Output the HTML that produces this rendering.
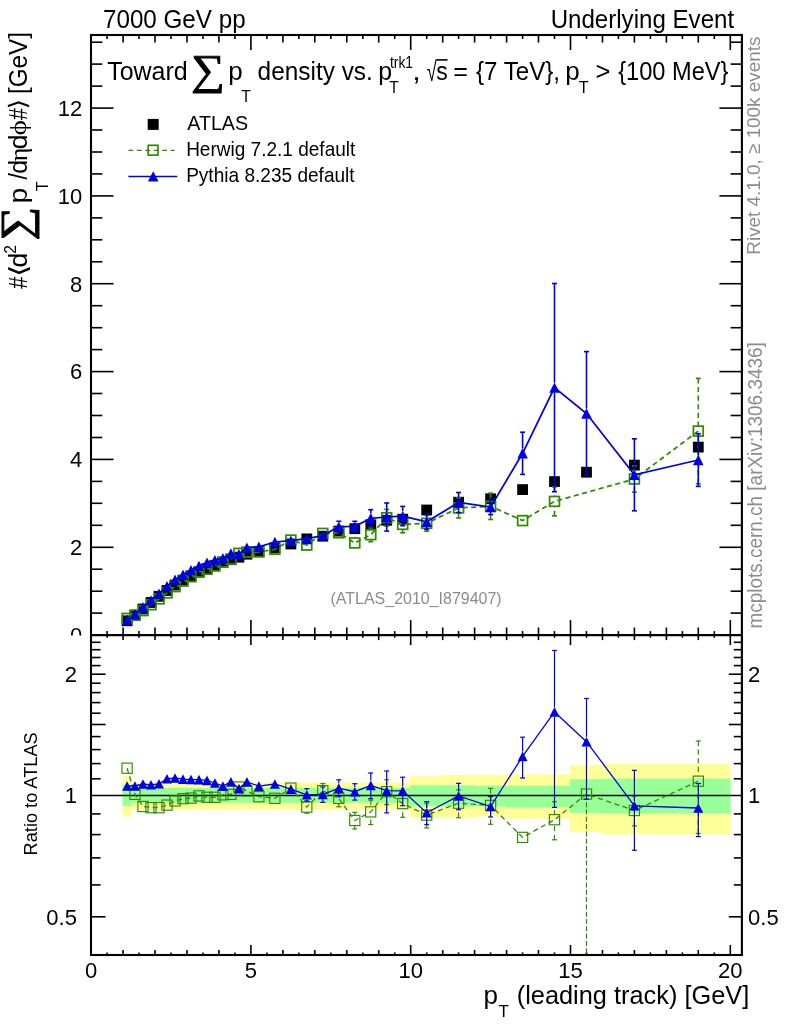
<!DOCTYPE html>
<html><head><meta charset="utf-8"><title>plot</title><style>html,body{margin:0;padding:0;background:#fff}</style></head><body>
<svg width="786" height="1024" viewBox="0 0 786 1024" style="display:block">
<rect width="786" height="1024" fill="#fff"/>
<rect x="122.5" y="776.1" width="8.9" height="40.7" fill="#ffff99"/>
<rect x="130.5" y="782.4" width="280.6" height="27.4" fill="#ffff99"/>
<rect x="410.1" y="776.2" width="32.9" height="41.7" fill="#ffff99"/>
<rect x="442.1" y="775.0" width="32.9" height="42.9" fill="#ffff99"/>
<rect x="474.0" y="775.0" width="32.9" height="41.7" fill="#ffff99"/>
<rect x="506.0" y="774.3" width="64.8" height="44.7" fill="#ffff99"/>
<rect x="569.9" y="764.9" width="32.9" height="67.0" fill="#ffff99"/>
<rect x="601.9" y="763.7" width="128.7" height="71.0" fill="#ffff99"/>
<rect x="122.5" y="785.0" width="8.9" height="21.0" fill="#99ff99"/>
<rect x="130.5" y="787.9" width="280.6" height="14.9" fill="#99ff99"/>
<rect x="410.1" y="785.3" width="32.9" height="21.1" fill="#99ff99"/>
<rect x="442.1" y="785.3" width="32.9" height="21.1" fill="#99ff99"/>
<rect x="474.0" y="785.8" width="32.9" height="20.6" fill="#99ff99"/>
<rect x="506.0" y="785.8" width="64.8" height="21.8" fill="#99ff99"/>
<rect x="569.9" y="779.3" width="32.9" height="33.6" fill="#99ff99"/>
<rect x="601.9" y="778.6" width="128.7" height="35.0" fill="#99ff99"/>
<g stroke="#000" stroke-width="2.1" fill="none" stroke-linecap="butt">
<rect x="91.0" y="35.0" width="650.9" height="920.0"/>
<line x1="91.0" x2="741.9" y1="635.1" y2="635.1"/>
</g>
<g stroke="#000" stroke-width="1.6">
<line x1="107.1" y1="35.0" x2="107.1" y2="39.0"/>
<line x1="107.1" y1="631.1" x2="107.1" y2="637.7"/>
<line x1="107.1" y1="952.4" x2="107.1" y2="955.0"/>
<line x1="123.1" y1="35.0" x2="123.1" y2="42.6"/>
<line x1="123.1" y1="627.5" x2="123.1" y2="640.1"/>
<line x1="123.1" y1="950.0" x2="123.1" y2="955.0"/>
<line x1="139.0" y1="35.0" x2="139.0" y2="39.0"/>
<line x1="139.0" y1="631.1" x2="139.0" y2="637.7"/>
<line x1="139.0" y1="952.4" x2="139.0" y2="955.0"/>
<line x1="155.0" y1="35.0" x2="155.0" y2="42.6"/>
<line x1="155.0" y1="627.5" x2="155.0" y2="640.1"/>
<line x1="155.0" y1="950.0" x2="155.0" y2="955.0"/>
<line x1="171.0" y1="35.0" x2="171.0" y2="39.0"/>
<line x1="171.0" y1="631.1" x2="171.0" y2="637.7"/>
<line x1="171.0" y1="952.4" x2="171.0" y2="955.0"/>
<line x1="187.0" y1="35.0" x2="187.0" y2="42.6"/>
<line x1="187.0" y1="627.5" x2="187.0" y2="640.1"/>
<line x1="187.0" y1="950.0" x2="187.0" y2="955.0"/>
<line x1="203.0" y1="35.0" x2="203.0" y2="39.0"/>
<line x1="203.0" y1="631.1" x2="203.0" y2="637.7"/>
<line x1="203.0" y1="952.4" x2="203.0" y2="955.0"/>
<line x1="218.9" y1="35.0" x2="218.9" y2="42.6"/>
<line x1="218.9" y1="627.5" x2="218.9" y2="640.1"/>
<line x1="218.9" y1="950.0" x2="218.9" y2="955.0"/>
<line x1="234.9" y1="35.0" x2="234.9" y2="39.0"/>
<line x1="234.9" y1="631.1" x2="234.9" y2="637.7"/>
<line x1="234.9" y1="952.4" x2="234.9" y2="955.0"/>
<line x1="250.9" y1="35.0" x2="250.9" y2="50.0"/>
<line x1="250.9" y1="620.1" x2="250.9" y2="645.1"/>
<line x1="250.9" y1="945.0" x2="250.9" y2="955.0"/>
<line x1="266.9" y1="35.0" x2="266.9" y2="39.0"/>
<line x1="266.9" y1="631.1" x2="266.9" y2="637.7"/>
<line x1="266.9" y1="952.4" x2="266.9" y2="955.0"/>
<line x1="282.9" y1="35.0" x2="282.9" y2="42.6"/>
<line x1="282.9" y1="627.5" x2="282.9" y2="640.1"/>
<line x1="282.9" y1="950.0" x2="282.9" y2="955.0"/>
<line x1="298.8" y1="35.0" x2="298.8" y2="39.0"/>
<line x1="298.8" y1="631.1" x2="298.8" y2="637.7"/>
<line x1="298.8" y1="952.4" x2="298.8" y2="955.0"/>
<line x1="314.8" y1="35.0" x2="314.8" y2="42.6"/>
<line x1="314.8" y1="627.5" x2="314.8" y2="640.1"/>
<line x1="314.8" y1="950.0" x2="314.8" y2="955.0"/>
<line x1="330.8" y1="35.0" x2="330.8" y2="39.0"/>
<line x1="330.8" y1="631.1" x2="330.8" y2="637.7"/>
<line x1="330.8" y1="952.4" x2="330.8" y2="955.0"/>
<line x1="346.8" y1="35.0" x2="346.8" y2="42.6"/>
<line x1="346.8" y1="627.5" x2="346.8" y2="640.1"/>
<line x1="346.8" y1="950.0" x2="346.8" y2="955.0"/>
<line x1="362.8" y1="35.0" x2="362.8" y2="39.0"/>
<line x1="362.8" y1="631.1" x2="362.8" y2="637.7"/>
<line x1="362.8" y1="952.4" x2="362.8" y2="955.0"/>
<line x1="378.7" y1="35.0" x2="378.7" y2="42.6"/>
<line x1="378.7" y1="627.5" x2="378.7" y2="640.1"/>
<line x1="378.7" y1="950.0" x2="378.7" y2="955.0"/>
<line x1="394.7" y1="35.0" x2="394.7" y2="39.0"/>
<line x1="394.7" y1="631.1" x2="394.7" y2="637.7"/>
<line x1="394.7" y1="952.4" x2="394.7" y2="955.0"/>
<line x1="410.7" y1="35.0" x2="410.7" y2="50.0"/>
<line x1="410.7" y1="620.1" x2="410.7" y2="645.1"/>
<line x1="410.7" y1="945.0" x2="410.7" y2="955.0"/>
<line x1="426.7" y1="35.0" x2="426.7" y2="39.0"/>
<line x1="426.7" y1="631.1" x2="426.7" y2="637.7"/>
<line x1="426.7" y1="952.4" x2="426.7" y2="955.0"/>
<line x1="442.7" y1="35.0" x2="442.7" y2="42.6"/>
<line x1="442.7" y1="627.5" x2="442.7" y2="640.1"/>
<line x1="442.7" y1="950.0" x2="442.7" y2="955.0"/>
<line x1="458.6" y1="35.0" x2="458.6" y2="39.0"/>
<line x1="458.6" y1="631.1" x2="458.6" y2="637.7"/>
<line x1="458.6" y1="952.4" x2="458.6" y2="955.0"/>
<line x1="474.6" y1="35.0" x2="474.6" y2="42.6"/>
<line x1="474.6" y1="627.5" x2="474.6" y2="640.1"/>
<line x1="474.6" y1="950.0" x2="474.6" y2="955.0"/>
<line x1="490.6" y1="35.0" x2="490.6" y2="39.0"/>
<line x1="490.6" y1="631.1" x2="490.6" y2="637.7"/>
<line x1="490.6" y1="952.4" x2="490.6" y2="955.0"/>
<line x1="506.6" y1="35.0" x2="506.6" y2="42.6"/>
<line x1="506.6" y1="627.5" x2="506.6" y2="640.1"/>
<line x1="506.6" y1="950.0" x2="506.6" y2="955.0"/>
<line x1="522.6" y1="35.0" x2="522.6" y2="39.0"/>
<line x1="522.6" y1="631.1" x2="522.6" y2="637.7"/>
<line x1="522.6" y1="952.4" x2="522.6" y2="955.0"/>
<line x1="538.5" y1="35.0" x2="538.5" y2="42.6"/>
<line x1="538.5" y1="627.5" x2="538.5" y2="640.1"/>
<line x1="538.5" y1="950.0" x2="538.5" y2="955.0"/>
<line x1="554.5" y1="35.0" x2="554.5" y2="39.0"/>
<line x1="554.5" y1="631.1" x2="554.5" y2="637.7"/>
<line x1="554.5" y1="952.4" x2="554.5" y2="955.0"/>
<line x1="570.5" y1="35.0" x2="570.5" y2="50.0"/>
<line x1="570.5" y1="620.1" x2="570.5" y2="645.1"/>
<line x1="570.5" y1="945.0" x2="570.5" y2="955.0"/>
<line x1="586.5" y1="35.0" x2="586.5" y2="39.0"/>
<line x1="586.5" y1="631.1" x2="586.5" y2="637.7"/>
<line x1="586.5" y1="952.4" x2="586.5" y2="955.0"/>
<line x1="602.5" y1="35.0" x2="602.5" y2="42.6"/>
<line x1="602.5" y1="627.5" x2="602.5" y2="640.1"/>
<line x1="602.5" y1="950.0" x2="602.5" y2="955.0"/>
<line x1="618.4" y1="35.0" x2="618.4" y2="39.0"/>
<line x1="618.4" y1="631.1" x2="618.4" y2="637.7"/>
<line x1="618.4" y1="952.4" x2="618.4" y2="955.0"/>
<line x1="634.4" y1="35.0" x2="634.4" y2="42.6"/>
<line x1="634.4" y1="627.5" x2="634.4" y2="640.1"/>
<line x1="634.4" y1="950.0" x2="634.4" y2="955.0"/>
<line x1="650.4" y1="35.0" x2="650.4" y2="39.0"/>
<line x1="650.4" y1="631.1" x2="650.4" y2="637.7"/>
<line x1="650.4" y1="952.4" x2="650.4" y2="955.0"/>
<line x1="666.4" y1="35.0" x2="666.4" y2="42.6"/>
<line x1="666.4" y1="627.5" x2="666.4" y2="640.1"/>
<line x1="666.4" y1="950.0" x2="666.4" y2="955.0"/>
<line x1="682.4" y1="35.0" x2="682.4" y2="39.0"/>
<line x1="682.4" y1="631.1" x2="682.4" y2="637.7"/>
<line x1="682.4" y1="952.4" x2="682.4" y2="955.0"/>
<line x1="698.3" y1="35.0" x2="698.3" y2="42.6"/>
<line x1="698.3" y1="627.5" x2="698.3" y2="640.1"/>
<line x1="698.3" y1="950.0" x2="698.3" y2="955.0"/>
<line x1="714.3" y1="35.0" x2="714.3" y2="39.0"/>
<line x1="714.3" y1="631.1" x2="714.3" y2="637.7"/>
<line x1="714.3" y1="952.4" x2="714.3" y2="955.0"/>
<line x1="730.3" y1="35.0" x2="730.3" y2="50.0"/>
<line x1="730.3" y1="620.1" x2="730.3" y2="645.1"/>
<line x1="730.3" y1="945.0" x2="730.3" y2="955.0"/>
<line x1="91.0" y1="613.1" x2="102.3" y2="613.1"/>
<line x1="730.6" y1="613.1" x2="741.9" y2="613.1"/>
<line x1="91.0" y1="591.2" x2="102.3" y2="591.2"/>
<line x1="730.6" y1="591.2" x2="741.9" y2="591.2"/>
<line x1="91.0" y1="569.2" x2="102.3" y2="569.2"/>
<line x1="730.6" y1="569.2" x2="741.9" y2="569.2"/>
<line x1="91.0" y1="547.3" x2="113.5" y2="547.3"/>
<line x1="719.4" y1="547.3" x2="741.9" y2="547.3"/>
<line x1="91.0" y1="525.3" x2="102.3" y2="525.3"/>
<line x1="730.6" y1="525.3" x2="741.9" y2="525.3"/>
<line x1="91.0" y1="503.3" x2="102.3" y2="503.3"/>
<line x1="730.6" y1="503.3" x2="741.9" y2="503.3"/>
<line x1="91.0" y1="481.4" x2="102.3" y2="481.4"/>
<line x1="730.6" y1="481.4" x2="741.9" y2="481.4"/>
<line x1="91.0" y1="459.4" x2="113.5" y2="459.4"/>
<line x1="719.4" y1="459.4" x2="741.9" y2="459.4"/>
<line x1="91.0" y1="437.5" x2="102.3" y2="437.5"/>
<line x1="730.6" y1="437.5" x2="741.9" y2="437.5"/>
<line x1="91.0" y1="415.5" x2="102.3" y2="415.5"/>
<line x1="730.6" y1="415.5" x2="741.9" y2="415.5"/>
<line x1="91.0" y1="393.5" x2="102.3" y2="393.5"/>
<line x1="730.6" y1="393.5" x2="741.9" y2="393.5"/>
<line x1="91.0" y1="371.6" x2="113.5" y2="371.6"/>
<line x1="719.4" y1="371.6" x2="741.9" y2="371.6"/>
<line x1="91.0" y1="349.6" x2="102.3" y2="349.6"/>
<line x1="730.6" y1="349.6" x2="741.9" y2="349.6"/>
<line x1="91.0" y1="327.7" x2="102.3" y2="327.7"/>
<line x1="730.6" y1="327.7" x2="741.9" y2="327.7"/>
<line x1="91.0" y1="305.7" x2="102.3" y2="305.7"/>
<line x1="730.6" y1="305.7" x2="741.9" y2="305.7"/>
<line x1="91.0" y1="283.7" x2="113.5" y2="283.7"/>
<line x1="719.4" y1="283.7" x2="741.9" y2="283.7"/>
<line x1="91.0" y1="261.8" x2="102.3" y2="261.8"/>
<line x1="730.6" y1="261.8" x2="741.9" y2="261.8"/>
<line x1="91.0" y1="239.8" x2="102.3" y2="239.8"/>
<line x1="730.6" y1="239.8" x2="741.9" y2="239.8"/>
<line x1="91.0" y1="217.9" x2="102.3" y2="217.9"/>
<line x1="730.6" y1="217.9" x2="741.9" y2="217.9"/>
<line x1="91.0" y1="195.9" x2="113.5" y2="195.9"/>
<line x1="719.4" y1="195.9" x2="741.9" y2="195.9"/>
<line x1="91.0" y1="173.9" x2="102.3" y2="173.9"/>
<line x1="730.6" y1="173.9" x2="741.9" y2="173.9"/>
<line x1="91.0" y1="152.0" x2="102.3" y2="152.0"/>
<line x1="730.6" y1="152.0" x2="741.9" y2="152.0"/>
<line x1="91.0" y1="130.0" x2="102.3" y2="130.0"/>
<line x1="730.6" y1="130.0" x2="741.9" y2="130.0"/>
<line x1="91.0" y1="108.1" x2="113.5" y2="108.1"/>
<line x1="719.4" y1="108.1" x2="741.9" y2="108.1"/>
<line x1="91.0" y1="86.1" x2="102.3" y2="86.1"/>
<line x1="730.6" y1="86.1" x2="741.9" y2="86.1"/>
<line x1="91.0" y1="64.1" x2="102.3" y2="64.1"/>
<line x1="730.6" y1="64.1" x2="741.9" y2="64.1"/>
<line x1="91.0" y1="42.2" x2="102.3" y2="42.2"/>
<line x1="730.6" y1="42.2" x2="741.9" y2="42.2"/>
<line x1="91.0" y1="916.8" x2="105.6" y2="916.8"/>
<line x1="728.8" y1="916.8" x2="741.9" y2="916.8"/>
<line x1="91.0" y1="884.9" x2="100.6" y2="884.9"/>
<line x1="733.8" y1="884.9" x2="741.9" y2="884.9"/>
<line x1="91.0" y1="857.9" x2="100.6" y2="857.9"/>
<line x1="733.8" y1="857.9" x2="741.9" y2="857.9"/>
<line x1="91.0" y1="834.6" x2="100.6" y2="834.6"/>
<line x1="733.8" y1="834.6" x2="741.9" y2="834.6"/>
<line x1="91.0" y1="813.9" x2="100.6" y2="813.9"/>
<line x1="733.8" y1="813.9" x2="741.9" y2="813.9"/>
<line x1="91.0" y1="778.8" x2="100.6" y2="778.8"/>
<line x1="733.8" y1="778.8" x2="741.9" y2="778.8"/>
<line x1="91.0" y1="763.6" x2="100.6" y2="763.6"/>
<line x1="733.8" y1="763.6" x2="741.9" y2="763.6"/>
<line x1="91.0" y1="749.6" x2="100.6" y2="749.6"/>
<line x1="733.8" y1="749.6" x2="741.9" y2="749.6"/>
<line x1="91.0" y1="736.6" x2="100.6" y2="736.6"/>
<line x1="733.8" y1="736.6" x2="741.9" y2="736.6"/>
<line x1="91.0" y1="724.5" x2="105.6" y2="724.5"/>
<line x1="728.8" y1="724.5" x2="741.9" y2="724.5"/>
<line x1="91.0" y1="713.2" x2="100.6" y2="713.2"/>
<line x1="733.8" y1="713.2" x2="741.9" y2="713.2"/>
<line x1="91.0" y1="702.6" x2="100.6" y2="702.6"/>
<line x1="733.8" y1="702.6" x2="741.9" y2="702.6"/>
<line x1="91.0" y1="692.6" x2="100.6" y2="692.6"/>
<line x1="733.8" y1="692.6" x2="741.9" y2="692.6"/>
<line x1="91.0" y1="683.2" x2="100.6" y2="683.2"/>
<line x1="733.8" y1="683.2" x2="741.9" y2="683.2"/>
<line x1="91.0" y1="674.2" x2="105.6" y2="674.2"/>
<line x1="728.8" y1="674.2" x2="741.9" y2="674.2"/>
<line x1="91.0" y1="665.6" x2="100.6" y2="665.6"/>
<line x1="733.8" y1="665.6" x2="741.9" y2="665.6"/>
<line x1="91.0" y1="657.5" x2="100.6" y2="657.5"/>
<line x1="733.8" y1="657.5" x2="741.9" y2="657.5"/>
<line x1="91.0" y1="649.7" x2="100.6" y2="649.7"/>
<line x1="733.8" y1="649.7" x2="741.9" y2="649.7"/>
<line x1="91.0" y1="642.3" x2="100.6" y2="642.3"/>
<line x1="733.8" y1="642.3" x2="741.9" y2="642.3"/>
<line x1="91.0" x2="741.9" y1="795.5" y2="795.5" stroke-width="1.3"/>
</g>
<clipPath id="cm"><rect x="91.0" y="35.0" width="650.9" height="600.1"/></clipPath>
<clipPath id="cr"><rect x="91.0" y="635.1" width="650.9" height="319.9"/></clipPath>
<g clip-path="url(#cm)">
<rect x="121.7" y="615.4" width="10.8" height="10.8" fill="#000"/>
<rect x="129.6" y="609.9" width="10.8" height="10.8" fill="#000"/>
<rect x="137.6" y="603.6" width="10.8" height="10.8" fill="#000"/>
<rect x="145.6" y="597.1" width="10.8" height="10.8" fill="#000"/>
<rect x="153.6" y="590.9" width="10.8" height="10.8" fill="#000"/>
<rect x="161.6" y="585.1" width="10.8" height="10.8" fill="#000"/>
<rect x="169.6" y="579.6" width="10.8" height="10.8" fill="#000"/>
<rect x="177.6" y="574.7" width="10.8" height="10.8" fill="#000"/>
<rect x="185.6" y="570.4" width="10.8" height="10.8" fill="#000"/>
<rect x="193.6" y="566.5" width="10.8" height="10.8" fill="#000"/>
<rect x="201.6" y="563.2" width="10.8" height="10.8" fill="#000"/>
<rect x="209.5" y="559.9" width="10.8" height="10.8" fill="#000"/>
<rect x="217.5" y="556.8" width="10.8" height="10.8" fill="#000"/>
<rect x="225.5" y="554.3" width="10.8" height="10.8" fill="#000"/>
<rect x="233.5" y="551.8" width="10.8" height="10.8" fill="#000"/>
<rect x="241.5" y="548.8" width="10.8" height="10.8" fill="#000"/>
<rect x="253.5" y="546.0" width="10.8" height="10.8" fill="#000"/>
<rect x="269.5" y="542.5" width="10.8" height="10.8" fill="#000"/>
<rect x="285.5" y="538.6" width="10.8" height="10.8" fill="#000"/>
<rect x="301.4" y="533.5" width="10.8" height="10.8" fill="#000"/>
<rect x="317.4" y="530.8" width="10.8" height="10.8" fill="#000"/>
<rect x="333.4" y="525.7" width="10.8" height="10.8" fill="#000"/>
<rect x="349.4" y="523.3" width="10.8" height="10.8" fill="#000"/>
<rect x="365.4" y="519.4" width="10.8" height="10.8" fill="#000"/>
<rect x="381.3" y="514.9" width="10.8" height="10.8" fill="#000"/>
<rect x="397.3" y="513.8" width="10.8" height="10.8" fill="#000"/>
<rect x="421.3" y="504.6" width="10.8" height="10.8" fill="#000"/>
<rect x="453.2" y="496.8" width="10.8" height="10.8" fill="#000"/>
<rect x="485.2" y="493.4" width="10.8" height="10.8" fill="#000"/>
<rect x="517.2" y="484.2" width="10.8" height="10.8" fill="#000"/>
<rect x="549.1" y="476.2" width="10.8" height="10.8" fill="#000"/>
<rect x="581.1" y="466.8" width="10.8" height="10.8" fill="#000"/>
<rect x="629.0" y="459.7" width="10.8" height="10.8" fill="#000"/>
<rect x="692.9" y="441.7" width="10.8" height="10.8" fill="#000"/>
<polyline points="127.1,618.4 135.0,615.1 143.0,610.6 151.0,604.7 159.0,598.9 167.0,592.9 175.0,586.6 183.0,581.1 191.0,576.7 199.0,572.1 207.0,569.3 214.9,566.0 222.9,562.0 230.9,559.1 238.9,553.3 246.9,552.1 258.9,552.0 274.9,549.3 290.9,540.1 306.8,545.1 322.8,533.4 338.8,532.8 354.8,542.9 370.8,534.7 386.7,517.7 402.7,524.4 426.7,523.3 458.6,507.9 490.6,506.3 522.6,520.6 554.5,501.4 634.4,479.0 698.3,431.1" fill="none" stroke="#2f8a00" stroke-width="1.75" stroke-dasharray="5.1,3.5"/>
<rect x="122.2" y="613.5" width="9.8" height="9.8" fill="none" stroke="#2f8a00" stroke-width="1.75"/>
<rect x="130.1" y="610.2" width="9.8" height="9.8" fill="none" stroke="#2f8a00" stroke-width="1.75"/>
<rect x="138.1" y="605.7" width="9.8" height="9.8" fill="none" stroke="#2f8a00" stroke-width="1.75"/>
<rect x="146.1" y="599.8" width="9.8" height="9.8" fill="none" stroke="#2f8a00" stroke-width="1.75"/>
<rect x="154.1" y="594.0" width="9.8" height="9.8" fill="none" stroke="#2f8a00" stroke-width="1.75"/>
<rect x="162.1" y="588.0" width="9.8" height="9.8" fill="none" stroke="#2f8a00" stroke-width="1.75"/>
<rect x="170.1" y="581.7" width="9.8" height="9.8" fill="none" stroke="#2f8a00" stroke-width="1.75"/>
<rect x="178.1" y="576.2" width="9.8" height="9.8" fill="none" stroke="#2f8a00" stroke-width="1.75"/>
<rect x="186.1" y="571.8" width="9.8" height="9.8" fill="none" stroke="#2f8a00" stroke-width="1.75"/>
<rect x="194.1" y="567.2" width="9.8" height="9.8" fill="none" stroke="#2f8a00" stroke-width="1.75"/>
<rect x="202.1" y="564.4" width="9.8" height="9.8" fill="none" stroke="#2f8a00" stroke-width="1.75"/>
<rect x="210.0" y="561.1" width="9.8" height="9.8" fill="none" stroke="#2f8a00" stroke-width="1.75"/>
<rect x="218.0" y="557.1" width="9.8" height="9.8" fill="none" stroke="#2f8a00" stroke-width="1.75"/>
<rect x="226.0" y="554.2" width="9.8" height="9.8" fill="none" stroke="#2f8a00" stroke-width="1.75"/>
<rect x="234.0" y="548.4" width="9.8" height="9.8" fill="none" stroke="#2f8a00" stroke-width="1.75"/>
<rect x="242.0" y="547.2" width="9.8" height="9.8" fill="none" stroke="#2f8a00" stroke-width="1.75"/>
<rect x="254.0" y="547.1" width="9.8" height="9.8" fill="none" stroke="#2f8a00" stroke-width="1.75"/>
<rect x="270.0" y="544.4" width="9.8" height="9.8" fill="none" stroke="#2f8a00" stroke-width="1.75"/>
<rect x="286.0" y="535.2" width="9.8" height="9.8" fill="none" stroke="#2f8a00" stroke-width="1.75"/>

<rect x="301.9" y="540.2" width="9.8" height="9.8" fill="none" stroke="#2f8a00" stroke-width="1.75"/>

<rect x="317.9" y="528.5" width="9.8" height="9.8" fill="none" stroke="#2f8a00" stroke-width="1.75"/>

<rect x="333.9" y="527.9" width="9.8" height="9.8" fill="none" stroke="#2f8a00" stroke-width="1.75"/>

<rect x="349.9" y="538.0" width="9.8" height="9.8" fill="none" stroke="#2f8a00" stroke-width="1.75"/>
<line x1="370.8" x2="370.8" y1="527.7" y2="529.7" stroke="#2f8a00" stroke-width="1.61" stroke-dasharray="5.1,3.5"/><line x1="368.2" x2="373.2" y1="527.7" y2="527.7" stroke="#2f8a00" stroke-width="1.61"/><line x1="370.8" x2="370.8" y1="541.7" y2="539.7" stroke="#2f8a00" stroke-width="1.61" stroke-dasharray="5.1,3.5"/><line x1="368.2" x2="373.2" y1="541.7" y2="541.7" stroke="#2f8a00" stroke-width="1.61"/>
<rect x="365.9" y="529.8" width="9.8" height="9.8" fill="none" stroke="#2f8a00" stroke-width="1.75"/>
<line x1="386.7" x2="386.7" y1="509.4" y2="512.7" stroke="#2f8a00" stroke-width="1.61" stroke-dasharray="5.1,3.5"/><line x1="384.2" x2="389.2" y1="509.4" y2="509.4" stroke="#2f8a00" stroke-width="1.61"/><line x1="386.7" x2="386.7" y1="526.1" y2="522.7" stroke="#2f8a00" stroke-width="1.61" stroke-dasharray="5.1,3.5"/><line x1="384.2" x2="389.2" y1="526.1" y2="526.1" stroke="#2f8a00" stroke-width="1.61"/>
<rect x="381.8" y="512.8" width="9.8" height="9.8" fill="none" stroke="#2f8a00" stroke-width="1.75"/>
<line x1="402.7" x2="402.7" y1="516.1" y2="519.4" stroke="#2f8a00" stroke-width="1.61" stroke-dasharray="5.1,3.5"/><line x1="400.2" x2="405.2" y1="516.1" y2="516.1" stroke="#2f8a00" stroke-width="1.61"/><line x1="402.7" x2="402.7" y1="532.8" y2="529.4" stroke="#2f8a00" stroke-width="1.61" stroke-dasharray="5.1,3.5"/><line x1="400.2" x2="405.2" y1="532.8" y2="532.8" stroke="#2f8a00" stroke-width="1.61"/>
<rect x="397.8" y="519.5" width="9.8" height="9.8" fill="none" stroke="#2f8a00" stroke-width="1.75"/>
<line x1="426.7" x2="426.7" y1="515.4" y2="518.3" stroke="#2f8a00" stroke-width="1.61" stroke-dasharray="5.1,3.5"/><line x1="424.2" x2="429.2" y1="515.4" y2="515.4" stroke="#2f8a00" stroke-width="1.61"/><line x1="426.7" x2="426.7" y1="531.2" y2="528.3" stroke="#2f8a00" stroke-width="1.61" stroke-dasharray="5.1,3.5"/><line x1="424.2" x2="429.2" y1="531.2" y2="531.2" stroke="#2f8a00" stroke-width="1.61"/>
<rect x="421.8" y="518.4" width="9.8" height="9.8" fill="none" stroke="#2f8a00" stroke-width="1.75"/>
<line x1="458.6" x2="458.6" y1="497.8" y2="502.9" stroke="#2f8a00" stroke-width="1.61" stroke-dasharray="5.1,3.5"/><line x1="456.1" x2="461.1" y1="497.8" y2="497.8" stroke="#2f8a00" stroke-width="1.61"/><line x1="458.6" x2="458.6" y1="518.0" y2="512.9" stroke="#2f8a00" stroke-width="1.61" stroke-dasharray="5.1,3.5"/><line x1="456.1" x2="461.1" y1="518.0" y2="518.0" stroke="#2f8a00" stroke-width="1.61"/>
<rect x="453.7" y="503.0" width="9.8" height="9.8" fill="none" stroke="#2f8a00" stroke-width="1.75"/>
<line x1="490.6" x2="490.6" y1="493.1" y2="501.3" stroke="#2f8a00" stroke-width="1.61" stroke-dasharray="5.1,3.5"/><line x1="488.1" x2="493.1" y1="493.1" y2="493.1" stroke="#2f8a00" stroke-width="1.61"/><line x1="490.6" x2="490.6" y1="519.5" y2="511.3" stroke="#2f8a00" stroke-width="1.61" stroke-dasharray="5.1,3.5"/><line x1="488.1" x2="493.1" y1="519.5" y2="519.5" stroke="#2f8a00" stroke-width="1.61"/>
<rect x="485.7" y="501.4" width="9.8" height="9.8" fill="none" stroke="#2f8a00" stroke-width="1.75"/>
<rect x="517.7" y="515.7" width="9.8" height="9.8" fill="none" stroke="#2f8a00" stroke-width="1.75"/>
<line x1="554.5" x2="554.5" y1="486.9" y2="496.4" stroke="#2f8a00" stroke-width="1.61" stroke-dasharray="5.1,3.5"/><line x1="552.0" x2="557.0" y1="486.9" y2="486.9" stroke="#2f8a00" stroke-width="1.61"/><line x1="554.5" x2="554.5" y1="515.9" y2="506.4" stroke="#2f8a00" stroke-width="1.61" stroke-dasharray="5.1,3.5"/><line x1="552.0" x2="557.0" y1="515.9" y2="515.9" stroke="#2f8a00" stroke-width="1.61"/>
<rect x="549.6" y="496.5" width="9.8" height="9.8" fill="none" stroke="#2f8a00" stroke-width="1.75"/>
<line x1="634.4" x2="634.4" y1="465.9" y2="474.0" stroke="#2f8a00" stroke-width="1.61" stroke-dasharray="5.1,3.5"/><line x1="631.9" x2="636.9" y1="465.9" y2="465.9" stroke="#2f8a00" stroke-width="1.61"/><line x1="634.4" x2="634.4" y1="492.2" y2="484.0" stroke="#2f8a00" stroke-width="1.61" stroke-dasharray="5.1,3.5"/><line x1="631.9" x2="636.9" y1="492.2" y2="492.2" stroke="#2f8a00" stroke-width="1.61"/>
<rect x="629.5" y="474.1" width="9.8" height="9.8" fill="none" stroke="#2f8a00" stroke-width="1.75"/>
<line x1="698.3" x2="698.3" y1="378.4" y2="426.1" stroke="#2f8a00" stroke-width="1.61" stroke-dasharray="5.1,3.5"/><line x1="695.8" x2="700.8" y1="378.4" y2="378.4" stroke="#2f8a00" stroke-width="1.61"/><line x1="698.3" x2="698.3" y1="483.8" y2="436.1" stroke="#2f8a00" stroke-width="1.61" stroke-dasharray="5.1,3.5"/><line x1="695.8" x2="700.8" y1="483.8" y2="483.8" stroke="#2f8a00" stroke-width="1.61"/>
<rect x="693.4" y="426.2" width="9.8" height="9.8" fill="none" stroke="#2f8a00" stroke-width="1.75"/>
<polyline points="127.1,620.0 135.0,614.2 143.0,607.3 151.0,600.4 159.0,593.6 167.0,586.1 175.0,579.8 183.0,574.7 191.0,570.1 199.0,565.9 207.0,562.6 214.9,560.1 222.9,558.2 230.9,553.5 238.9,554.1 246.9,547.7 258.9,546.8 274.9,542.0 290.9,540.7 306.8,538.6 322.8,535.6 338.8,526.6 354.8,526.4 370.8,518.3 386.7,517.0 402.7,516.1 426.7,521.8 458.6,502.5 490.6,507.1 522.6,453.3 554.5,387.6 586.5,413.5 634.4,474.8 698.3,460.0" fill="none" stroke="#0000e6" stroke-width="1.75"/>
<polygon points="127.1,614.8 132.4,625.2 121.8,625.2" fill="#0000e6"/>
<polygon points="135.0,609.0 140.3,619.4 129.7,619.4" fill="#0000e6"/>
<polygon points="143.0,602.1 148.3,612.5 137.7,612.5" fill="#0000e6"/>
<polygon points="151.0,595.2 156.3,605.6 145.7,605.6" fill="#0000e6"/>
<polygon points="159.0,588.4 164.3,598.8 153.7,598.8" fill="#0000e6"/>
<polygon points="167.0,580.9 172.3,591.3 161.7,591.3" fill="#0000e6"/>
<polygon points="175.0,574.6 180.3,585.0 169.7,585.0" fill="#0000e6"/>
<polygon points="183.0,569.5 188.3,579.9 177.7,579.9" fill="#0000e6"/>
<polygon points="191.0,564.9 196.3,575.3 185.7,575.3" fill="#0000e6"/>
<polygon points="199.0,560.7 204.3,571.1 193.7,571.1" fill="#0000e6"/>
<polygon points="207.0,557.4 212.3,567.8 201.7,567.8" fill="#0000e6"/>
<polygon points="214.9,554.9 220.2,565.3 209.6,565.3" fill="#0000e6"/>
<polygon points="222.9,553.0 228.2,563.4 217.6,563.4" fill="#0000e6"/>
<polygon points="230.9,548.3 236.2,558.7 225.6,558.7" fill="#0000e6"/>
<polygon points="238.9,548.9 244.2,559.3 233.6,559.3" fill="#0000e6"/>
<polygon points="246.9,542.5 252.2,552.9 241.6,552.9" fill="#0000e6"/>
<polygon points="258.9,541.6 264.2,552.0 253.6,552.0" fill="#0000e6"/>
<polygon points="274.9,536.8 280.2,547.2 269.6,547.2" fill="#0000e6"/>
<polygon points="290.9,535.5 296.2,545.9 285.6,545.9" fill="#0000e6"/>

<polygon points="306.8,533.4 312.1,543.8 301.5,543.8" fill="#0000e6"/>

<polygon points="322.8,530.4 328.1,540.8 317.5,540.8" fill="#0000e6"/>
<line x1="338.8" x2="338.8" y1="521.3" y2="521.6" stroke="#0000e6" stroke-width="1.61"/><line x1="336.3" x2="341.3" y1="521.3" y2="521.3" stroke="#0000e6" stroke-width="1.61"/><line x1="338.8" x2="338.8" y1="531.9" y2="531.6" stroke="#0000e6" stroke-width="1.61"/><line x1="336.3" x2="341.3" y1="531.9" y2="531.9" stroke="#0000e6" stroke-width="1.61"/>
<polygon points="338.8,521.4 344.1,531.8 333.5,531.8" fill="#0000e6"/>
<line x1="354.8" x2="354.8" y1="521.3" y2="521.4" stroke="#0000e6" stroke-width="1.61"/><line x1="352.3" x2="357.3" y1="521.3" y2="521.3" stroke="#0000e6" stroke-width="1.61"/><line x1="354.8" x2="354.8" y1="531.5" y2="531.4" stroke="#0000e6" stroke-width="1.61"/><line x1="352.3" x2="357.3" y1="531.5" y2="531.5" stroke="#0000e6" stroke-width="1.61"/>
<polygon points="354.8,521.2 360.1,531.6 349.5,531.6" fill="#0000e6"/>
<line x1="370.8" x2="370.8" y1="509.7" y2="513.3" stroke="#0000e6" stroke-width="1.61"/><line x1="368.2" x2="373.2" y1="509.7" y2="509.7" stroke="#0000e6" stroke-width="1.61"/><line x1="370.8" x2="370.8" y1="526.8" y2="523.3" stroke="#0000e6" stroke-width="1.61"/><line x1="368.2" x2="373.2" y1="526.8" y2="526.8" stroke="#0000e6" stroke-width="1.61"/>
<polygon points="370.8,513.1 376.1,523.5 365.4,523.5" fill="#0000e6"/>
<line x1="386.7" x2="386.7" y1="503.0" y2="512.0" stroke="#0000e6" stroke-width="1.61"/><line x1="384.2" x2="389.2" y1="503.0" y2="503.0" stroke="#0000e6" stroke-width="1.61"/><line x1="386.7" x2="386.7" y1="531.1" y2="522.0" stroke="#0000e6" stroke-width="1.61"/><line x1="384.2" x2="389.2" y1="531.1" y2="531.1" stroke="#0000e6" stroke-width="1.61"/>
<polygon points="386.7,511.8 392.0,522.2 381.4,522.2" fill="#0000e6"/>
<line x1="402.7" x2="402.7" y1="506.4" y2="511.1" stroke="#0000e6" stroke-width="1.61"/><line x1="400.2" x2="405.2" y1="506.4" y2="506.4" stroke="#0000e6" stroke-width="1.61"/><line x1="402.7" x2="402.7" y1="525.7" y2="521.1" stroke="#0000e6" stroke-width="1.61"/><line x1="400.2" x2="405.2" y1="525.7" y2="525.7" stroke="#0000e6" stroke-width="1.61"/>
<polygon points="402.7,510.9 408.0,521.3 397.4,521.3" fill="#0000e6"/>
<line x1="426.7" x2="426.7" y1="514.3" y2="516.8" stroke="#0000e6" stroke-width="1.61"/><line x1="424.2" x2="429.2" y1="514.3" y2="514.3" stroke="#0000e6" stroke-width="1.61"/><line x1="426.7" x2="426.7" y1="529.3" y2="526.8" stroke="#0000e6" stroke-width="1.61"/><line x1="424.2" x2="429.2" y1="529.3" y2="529.3" stroke="#0000e6" stroke-width="1.61"/>
<polygon points="426.7,516.6 432.0,527.0 421.4,527.0" fill="#0000e6"/>
<line x1="458.6" x2="458.6" y1="492.5" y2="497.5" stroke="#0000e6" stroke-width="1.61"/><line x1="456.1" x2="461.1" y1="492.5" y2="492.5" stroke="#0000e6" stroke-width="1.61"/><line x1="458.6" x2="458.6" y1="512.6" y2="507.5" stroke="#0000e6" stroke-width="1.61"/><line x1="456.1" x2="461.1" y1="512.6" y2="512.6" stroke="#0000e6" stroke-width="1.61"/>
<polygon points="458.6,497.3 463.9,507.7 453.3,507.7" fill="#0000e6"/>
<line x1="490.6" x2="490.6" y1="499.7" y2="502.1" stroke="#0000e6" stroke-width="1.61"/><line x1="488.1" x2="493.1" y1="499.7" y2="499.7" stroke="#0000e6" stroke-width="1.61"/><line x1="490.6" x2="490.6" y1="514.6" y2="512.1" stroke="#0000e6" stroke-width="1.61"/><line x1="488.1" x2="493.1" y1="514.6" y2="514.6" stroke="#0000e6" stroke-width="1.61"/>
<polygon points="490.6,501.9 495.9,512.3 485.3,512.3" fill="#0000e6"/>
<line x1="522.6" x2="522.6" y1="432.2" y2="448.3" stroke="#0000e6" stroke-width="1.61"/><line x1="520.1" x2="525.1" y1="432.2" y2="432.2" stroke="#0000e6" stroke-width="1.61"/><line x1="522.6" x2="522.6" y1="474.4" y2="458.3" stroke="#0000e6" stroke-width="1.61"/><line x1="520.1" x2="525.1" y1="474.4" y2="474.4" stroke="#0000e6" stroke-width="1.61"/>
<polygon points="522.6,448.1 527.9,458.5 517.3,458.5" fill="#0000e6"/>
<line x1="554.5" x2="554.5" y1="283.5" y2="382.6" stroke="#0000e6" stroke-width="1.61"/><line x1="552.0" x2="557.0" y1="283.5" y2="283.5" stroke="#0000e6" stroke-width="1.61"/><line x1="554.5" x2="554.5" y1="491.7" y2="392.6" stroke="#0000e6" stroke-width="1.61"/><line x1="552.0" x2="557.0" y1="491.7" y2="491.7" stroke="#0000e6" stroke-width="1.61"/>
<polygon points="554.5,382.4 559.8,392.8 549.2,392.8" fill="#0000e6"/>
<line x1="586.5" x2="586.5" y1="351.6" y2="408.5" stroke="#0000e6" stroke-width="1.61"/><line x1="584.0" x2="589.0" y1="351.6" y2="351.6" stroke="#0000e6" stroke-width="1.61"/><line x1="586.5" x2="586.5" y1="475.5" y2="418.5" stroke="#0000e6" stroke-width="1.61"/><line x1="584.0" x2="589.0" y1="475.5" y2="475.5" stroke="#0000e6" stroke-width="1.61"/>
<polygon points="586.5,408.3 591.8,418.7 581.2,418.7" fill="#0000e6"/>
<line x1="634.4" x2="634.4" y1="438.8" y2="469.8" stroke="#0000e6" stroke-width="1.61"/><line x1="631.9" x2="636.9" y1="438.8" y2="438.8" stroke="#0000e6" stroke-width="1.61"/><line x1="634.4" x2="634.4" y1="510.8" y2="479.8" stroke="#0000e6" stroke-width="1.61"/><line x1="631.9" x2="636.9" y1="510.8" y2="510.8" stroke="#0000e6" stroke-width="1.61"/>
<polygon points="634.4,469.6 639.7,480.0 629.1,480.0" fill="#0000e6"/>
<line x1="698.3" x2="698.3" y1="433.7" y2="455.0" stroke="#0000e6" stroke-width="1.61"/><line x1="695.8" x2="700.8" y1="433.7" y2="433.7" stroke="#0000e6" stroke-width="1.61"/><line x1="698.3" x2="698.3" y1="486.4" y2="465.0" stroke="#0000e6" stroke-width="1.61"/><line x1="695.8" x2="700.8" y1="486.4" y2="486.4" stroke="#0000e6" stroke-width="1.61"/>
<polygon points="698.3,454.8 703.6,465.2 693.0,465.2" fill="#0000e6"/>
</g>
<g clip-path="url(#cr)">
<polyline points="127.1,768.2 135.0,794.3 143.0,806.5 151.0,807.7 159.0,807.7 167.0,805.1 175.0,801.0 183.0,798.7 191.0,798.1 199.0,795.9 207.0,797.3 214.9,797.3 222.9,794.8 230.9,794.3 238.9,787.0 246.9,791.0 258.9,796.7 274.9,798.3 290.9,788.1 306.8,807.1 322.8,790.7 338.8,798.4 354.8,820.5 370.8,811.9 386.7,791.7 402.7,803.6 426.7,815.1 458.6,803.2 490.6,805.4 522.6,837.4 554.5,819.7 586.5,794.1 634.4,810.5 698.3,781.2" fill="none" stroke="#2f8a00" stroke-width="1.3" stroke-dasharray="5.1,3.5"/>
<rect x="122.0" y="763.1" width="10.2" height="10.2" fill="none" stroke="#2f8a00" stroke-width="1.15"/>
<rect x="129.9" y="789.2" width="10.2" height="10.2" fill="none" stroke="#2f8a00" stroke-width="1.15"/>
<rect x="137.9" y="801.4" width="10.2" height="10.2" fill="none" stroke="#2f8a00" stroke-width="1.15"/>
<rect x="145.9" y="802.6" width="10.2" height="10.2" fill="none" stroke="#2f8a00" stroke-width="1.15"/>
<rect x="153.9" y="802.6" width="10.2" height="10.2" fill="none" stroke="#2f8a00" stroke-width="1.15"/>
<rect x="161.9" y="800.0" width="10.2" height="10.2" fill="none" stroke="#2f8a00" stroke-width="1.15"/>
<rect x="169.9" y="795.9" width="10.2" height="10.2" fill="none" stroke="#2f8a00" stroke-width="1.15"/>
<rect x="177.9" y="793.6" width="10.2" height="10.2" fill="none" stroke="#2f8a00" stroke-width="1.15"/>
<rect x="185.9" y="793.0" width="10.2" height="10.2" fill="none" stroke="#2f8a00" stroke-width="1.15"/>
<rect x="193.9" y="790.8" width="10.2" height="10.2" fill="none" stroke="#2f8a00" stroke-width="1.15"/>
<rect x="201.9" y="792.2" width="10.2" height="10.2" fill="none" stroke="#2f8a00" stroke-width="1.15"/>
<rect x="209.8" y="792.2" width="10.2" height="10.2" fill="none" stroke="#2f8a00" stroke-width="1.15"/>
<rect x="217.8" y="789.7" width="10.2" height="10.2" fill="none" stroke="#2f8a00" stroke-width="1.15"/>
<rect x="225.8" y="789.2" width="10.2" height="10.2" fill="none" stroke="#2f8a00" stroke-width="1.15"/>
<rect x="233.8" y="781.9" width="10.2" height="10.2" fill="none" stroke="#2f8a00" stroke-width="1.15"/>
<rect x="241.8" y="785.9" width="10.2" height="10.2" fill="none" stroke="#2f8a00" stroke-width="1.15"/>
<rect x="253.8" y="791.6" width="10.2" height="10.2" fill="none" stroke="#2f8a00" stroke-width="1.15"/>
<rect x="269.8" y="793.2" width="10.2" height="10.2" fill="none" stroke="#2f8a00" stroke-width="1.15"/>
<rect x="285.8" y="783.0" width="10.2" height="10.2" fill="none" stroke="#2f8a00" stroke-width="1.15"/>
<line x1="306.8" x2="306.8" y1="801.2" y2="802.3" stroke="#2f8a00" stroke-width="1.20" stroke-dasharray="5.1,3.5"/><line x1="304.3" x2="309.3" y1="801.2" y2="801.2" stroke="#2f8a00" stroke-width="1.20"/><line x1="306.8" x2="306.8" y1="813.2" y2="811.9" stroke="#2f8a00" stroke-width="1.20" stroke-dasharray="5.1,3.5"/><line x1="304.3" x2="309.3" y1="813.2" y2="813.2" stroke="#2f8a00" stroke-width="1.20"/>
<rect x="301.7" y="802.0" width="10.2" height="10.2" fill="none" stroke="#2f8a00" stroke-width="1.15"/>
<line x1="322.8" x2="322.8" y1="783.5" y2="785.9" stroke="#2f8a00" stroke-width="1.20" stroke-dasharray="5.1,3.5"/><line x1="320.3" x2="325.3" y1="783.5" y2="783.5" stroke="#2f8a00" stroke-width="1.20"/><line x1="322.8" x2="322.8" y1="798.2" y2="795.5" stroke="#2f8a00" stroke-width="1.20" stroke-dasharray="5.1,3.5"/><line x1="320.3" x2="325.3" y1="798.2" y2="798.2" stroke="#2f8a00" stroke-width="1.20"/>
<rect x="317.7" y="785.6" width="10.2" height="10.2" fill="none" stroke="#2f8a00" stroke-width="1.15"/>
<line x1="338.8" x2="338.8" y1="790.3" y2="793.6" stroke="#2f8a00" stroke-width="1.20" stroke-dasharray="5.1,3.5"/><line x1="336.3" x2="341.3" y1="790.3" y2="790.3" stroke="#2f8a00" stroke-width="1.20"/><line x1="338.8" x2="338.8" y1="806.8" y2="803.2" stroke="#2f8a00" stroke-width="1.20" stroke-dasharray="5.1,3.5"/><line x1="336.3" x2="341.3" y1="806.8" y2="806.8" stroke="#2f8a00" stroke-width="1.20"/>
<rect x="333.7" y="793.3" width="10.2" height="10.2" fill="none" stroke="#2f8a00" stroke-width="1.15"/>
<line x1="354.8" x2="354.8" y1="812.3" y2="815.7" stroke="#2f8a00" stroke-width="1.20" stroke-dasharray="5.1,3.5"/><line x1="352.3" x2="357.3" y1="812.3" y2="812.3" stroke="#2f8a00" stroke-width="1.20"/><line x1="354.8" x2="354.8" y1="829.0" y2="825.3" stroke="#2f8a00" stroke-width="1.20" stroke-dasharray="5.1,3.5"/><line x1="352.3" x2="357.3" y1="829.0" y2="829.0" stroke="#2f8a00" stroke-width="1.20"/>
<rect x="349.7" y="815.4" width="10.2" height="10.2" fill="none" stroke="#2f8a00" stroke-width="1.15"/>
<line x1="370.8" x2="370.8" y1="800.1" y2="807.1" stroke="#2f8a00" stroke-width="1.20" stroke-dasharray="5.1,3.5"/><line x1="368.2" x2="373.2" y1="800.1" y2="800.1" stroke="#2f8a00" stroke-width="1.20"/><line x1="370.8" x2="370.8" y1="824.6" y2="816.7" stroke="#2f8a00" stroke-width="1.20" stroke-dasharray="5.1,3.5"/><line x1="368.2" x2="373.2" y1="824.6" y2="824.6" stroke="#2f8a00" stroke-width="1.20"/>
<rect x="365.6" y="806.8" width="10.2" height="10.2" fill="none" stroke="#2f8a00" stroke-width="1.15"/>
<line x1="386.7" x2="386.7" y1="779.7" y2="786.9" stroke="#2f8a00" stroke-width="1.20" stroke-dasharray="5.1,3.5"/><line x1="384.2" x2="389.2" y1="779.7" y2="779.7" stroke="#2f8a00" stroke-width="1.20"/><line x1="386.7" x2="386.7" y1="804.6" y2="796.5" stroke="#2f8a00" stroke-width="1.20" stroke-dasharray="5.1,3.5"/><line x1="384.2" x2="389.2" y1="804.6" y2="804.6" stroke="#2f8a00" stroke-width="1.20"/>
<rect x="381.6" y="786.6" width="10.2" height="10.2" fill="none" stroke="#2f8a00" stroke-width="1.15"/>
<line x1="402.7" x2="402.7" y1="790.8" y2="798.8" stroke="#2f8a00" stroke-width="1.20" stroke-dasharray="5.1,3.5"/><line x1="400.2" x2="405.2" y1="790.8" y2="790.8" stroke="#2f8a00" stroke-width="1.20"/><line x1="402.7" x2="402.7" y1="817.3" y2="808.4" stroke="#2f8a00" stroke-width="1.20" stroke-dasharray="5.1,3.5"/><line x1="400.2" x2="405.2" y1="817.3" y2="817.3" stroke="#2f8a00" stroke-width="1.20"/>
<rect x="397.6" y="798.5" width="10.2" height="10.2" fill="none" stroke="#2f8a00" stroke-width="1.15"/>
<line x1="426.7" x2="426.7" y1="803.2" y2="810.3" stroke="#2f8a00" stroke-width="1.20" stroke-dasharray="5.1,3.5"/><line x1="424.2" x2="429.2" y1="803.2" y2="803.2" stroke="#2f8a00" stroke-width="1.20"/><line x1="426.7" x2="426.7" y1="827.9" y2="819.9" stroke="#2f8a00" stroke-width="1.20" stroke-dasharray="5.1,3.5"/><line x1="424.2" x2="429.2" y1="827.9" y2="827.9" stroke="#2f8a00" stroke-width="1.20"/>
<rect x="421.6" y="810.0" width="10.2" height="10.2" fill="none" stroke="#2f8a00" stroke-width="1.15"/>
<line x1="458.6" x2="458.6" y1="789.8" y2="798.4" stroke="#2f8a00" stroke-width="1.20" stroke-dasharray="5.1,3.5"/><line x1="456.1" x2="461.1" y1="789.8" y2="789.8" stroke="#2f8a00" stroke-width="1.20"/><line x1="458.6" x2="458.6" y1="817.7" y2="808.0" stroke="#2f8a00" stroke-width="1.20" stroke-dasharray="5.1,3.5"/><line x1="456.1" x2="461.1" y1="817.7" y2="817.7" stroke="#2f8a00" stroke-width="1.20"/>
<rect x="453.5" y="798.1" width="10.2" height="10.2" fill="none" stroke="#2f8a00" stroke-width="1.15"/>
<line x1="490.6" x2="490.6" y1="788.4" y2="800.6" stroke="#2f8a00" stroke-width="1.20" stroke-dasharray="5.1,3.5"/><line x1="488.1" x2="493.1" y1="788.4" y2="788.4" stroke="#2f8a00" stroke-width="1.20"/><line x1="490.6" x2="490.6" y1="824.3" y2="810.2" stroke="#2f8a00" stroke-width="1.20" stroke-dasharray="5.1,3.5"/><line x1="488.1" x2="493.1" y1="824.3" y2="824.3" stroke="#2f8a00" stroke-width="1.20"/>
<rect x="485.5" y="800.3" width="10.2" height="10.2" fill="none" stroke="#2f8a00" stroke-width="1.15"/>
<rect x="517.5" y="832.3" width="10.2" height="10.2" fill="none" stroke="#2f8a00" stroke-width="1.15"/>
<line x1="554.5" x2="554.5" y1="801.7" y2="814.9" stroke="#2f8a00" stroke-width="1.20" stroke-dasharray="5.1,3.5"/><line x1="552.0" x2="557.0" y1="801.7" y2="801.7" stroke="#2f8a00" stroke-width="1.20"/><line x1="554.5" x2="554.5" y1="839.8" y2="824.5" stroke="#2f8a00" stroke-width="1.20" stroke-dasharray="5.1,3.5"/><line x1="552.0" x2="557.0" y1="839.8" y2="839.8" stroke="#2f8a00" stroke-width="1.20"/>
<rect x="549.4" y="814.6" width="10.2" height="10.2" fill="none" stroke="#2f8a00" stroke-width="1.15"/>
<line x1="586.5" x2="586.5" y1="1194.1" y2="798.9" stroke="#2f8a00" stroke-width="1.20" stroke-dasharray="5.0,2.3"/>
<rect x="581.4" y="789.0" width="10.2" height="10.2" fill="none" stroke="#2f8a00" stroke-width="1.15"/>
<line x1="634.4" x2="634.4" y1="796.3" y2="805.7" stroke="#2f8a00" stroke-width="1.20" stroke-dasharray="5.1,3.5"/><line x1="631.9" x2="636.9" y1="796.3" y2="796.3" stroke="#2f8a00" stroke-width="1.20"/><line x1="634.4" x2="634.4" y1="825.9" y2="815.3" stroke="#2f8a00" stroke-width="1.20" stroke-dasharray="5.1,3.5"/><line x1="631.9" x2="636.9" y1="825.9" y2="825.9" stroke="#2f8a00" stroke-width="1.20"/>
<rect x="629.3" y="805.4" width="10.2" height="10.2" fill="none" stroke="#2f8a00" stroke-width="1.15"/>
<line x1="698.3" x2="698.3" y1="741.0" y2="776.4" stroke="#2f8a00" stroke-width="1.20" stroke-dasharray="5.1,3.5"/><line x1="695.8" x2="700.8" y1="741.0" y2="741.0" stroke="#2f8a00" stroke-width="1.20"/><line x1="698.3" x2="698.3" y1="833.5" y2="786.0" stroke="#2f8a00" stroke-width="1.20" stroke-dasharray="5.1,3.5"/><line x1="695.8" x2="700.8" y1="833.5" y2="833.5" stroke="#2f8a00" stroke-width="1.20"/>
<rect x="693.2" y="776.1" width="10.2" height="10.2" fill="none" stroke="#2f8a00" stroke-width="1.15"/>
<polyline points="127.1,786.0 135.0,786.0 143.0,784.0 151.0,784.8 159.0,783.8 167.0,778.8 175.0,778.0 183.0,779.1 191.0,779.5 199.0,779.6 207.0,780.4 214.9,783.0 222.9,786.1 230.9,781.9 238.9,788.6 246.9,781.9 258.9,786.1 274.9,784.0 290.9,789.1 306.8,794.8 322.8,794.5 338.8,788.1 354.8,791.7 370.8,785.4 386.7,790.7 402.7,790.8 426.7,812.8 458.6,796.0 490.6,806.5 522.6,756.4 554.5,711.9 586.5,741.7 634.4,805.8 698.3,808.0" fill="none" stroke="#0000e6" stroke-width="1.3"/>
<polygon points="127.1,781.2 132.1,790.8 122.1,790.8" fill="#0000e6"/>
<polygon points="135.0,781.2 140.0,790.8 130.0,790.8" fill="#0000e6"/>
<polygon points="143.0,779.2 148.0,788.8 138.0,788.8" fill="#0000e6"/>
<polygon points="151.0,780.0 156.0,789.6 146.0,789.6" fill="#0000e6"/>
<polygon points="159.0,779.0 164.0,788.6 154.0,788.6" fill="#0000e6"/>
<polygon points="167.0,774.0 172.0,783.6 162.0,783.6" fill="#0000e6"/>
<polygon points="175.0,773.2 180.0,782.8 170.0,782.8" fill="#0000e6"/>
<polygon points="183.0,774.3 188.0,783.9 178.0,783.9" fill="#0000e6"/>
<polygon points="191.0,774.7 196.0,784.3 186.0,784.3" fill="#0000e6"/>
<polygon points="199.0,774.8 204.0,784.4 194.0,784.4" fill="#0000e6"/>
<polygon points="207.0,775.6 212.0,785.2 202.0,785.2" fill="#0000e6"/>
<polygon points="214.9,778.2 219.9,787.8 209.9,787.8" fill="#0000e6"/>
<polygon points="222.9,781.3 227.9,790.9 217.9,790.9" fill="#0000e6"/>
<polygon points="230.9,777.1 235.9,786.7 225.9,786.7" fill="#0000e6"/>
<polygon points="238.9,783.8 243.9,793.4 233.9,793.4" fill="#0000e6"/>
<polygon points="246.9,777.1 251.9,786.7 241.9,786.7" fill="#0000e6"/>
<polygon points="258.9,781.3 263.9,790.9 253.9,790.9" fill="#0000e6"/>
<polygon points="274.9,779.2 279.9,788.8 269.9,788.8" fill="#0000e6"/>
<polygon points="290.9,784.3 295.9,793.9 285.9,793.9" fill="#0000e6"/>
<line x1="306.8" x2="306.8" y1="788.7" y2="790.0" stroke="#0000e6" stroke-width="1.20"/><line x1="304.3" x2="309.3" y1="788.7" y2="788.7" stroke="#0000e6" stroke-width="1.20"/><line x1="306.8" x2="306.8" y1="801.1" y2="799.6" stroke="#0000e6" stroke-width="1.20"/><line x1="304.3" x2="309.3" y1="801.1" y2="801.1" stroke="#0000e6" stroke-width="1.20"/>
<polygon points="306.8,790.0 311.8,799.6 301.8,799.6" fill="#0000e6"/>
<line x1="322.8" x2="322.8" y1="786.9" y2="789.7" stroke="#0000e6" stroke-width="1.20"/><line x1="320.3" x2="325.3" y1="786.9" y2="786.9" stroke="#0000e6" stroke-width="1.20"/><line x1="322.8" x2="322.8" y1="802.4" y2="799.3" stroke="#0000e6" stroke-width="1.20"/><line x1="320.3" x2="325.3" y1="802.4" y2="802.4" stroke="#0000e6" stroke-width="1.20"/>
<polygon points="322.8,789.7 327.8,799.3 317.8,799.3" fill="#0000e6"/>
<line x1="338.8" x2="338.8" y1="779.8" y2="783.3" stroke="#0000e6" stroke-width="1.20"/><line x1="336.3" x2="341.3" y1="779.8" y2="779.8" stroke="#0000e6" stroke-width="1.20"/><line x1="338.8" x2="338.8" y1="796.8" y2="792.9" stroke="#0000e6" stroke-width="1.20"/><line x1="336.3" x2="341.3" y1="796.8" y2="796.8" stroke="#0000e6" stroke-width="1.20"/>
<polygon points="338.8,783.3 343.8,792.9 333.8,792.9" fill="#0000e6"/>
<line x1="354.8" x2="354.8" y1="783.7" y2="786.9" stroke="#0000e6" stroke-width="1.20"/><line x1="352.3" x2="357.3" y1="783.7" y2="783.7" stroke="#0000e6" stroke-width="1.20"/><line x1="354.8" x2="354.8" y1="800.1" y2="796.5" stroke="#0000e6" stroke-width="1.20"/><line x1="352.3" x2="357.3" y1="800.1" y2="800.1" stroke="#0000e6" stroke-width="1.20"/>
<polygon points="354.8,786.9 359.8,796.5 349.8,796.5" fill="#0000e6"/>
<line x1="370.8" x2="370.8" y1="773.0" y2="780.6" stroke="#0000e6" stroke-width="1.20"/><line x1="368.2" x2="373.2" y1="773.0" y2="773.0" stroke="#0000e6" stroke-width="1.20"/><line x1="370.8" x2="370.8" y1="798.7" y2="790.2" stroke="#0000e6" stroke-width="1.20"/><line x1="368.2" x2="373.2" y1="798.7" y2="798.7" stroke="#0000e6" stroke-width="1.20"/>
<polygon points="370.8,780.6 375.8,790.2 365.8,790.2" fill="#0000e6"/>
<line x1="386.7" x2="386.7" y1="771.0" y2="785.9" stroke="#0000e6" stroke-width="1.20"/><line x1="384.2" x2="389.2" y1="771.0" y2="771.0" stroke="#0000e6" stroke-width="1.20"/><line x1="386.7" x2="386.7" y1="812.9" y2="795.5" stroke="#0000e6" stroke-width="1.20"/><line x1="384.2" x2="389.2" y1="812.9" y2="812.9" stroke="#0000e6" stroke-width="1.20"/>
<polygon points="386.7,785.9 391.7,795.5 381.7,795.5" fill="#0000e6"/>
<line x1="402.7" x2="402.7" y1="777.2" y2="786.0" stroke="#0000e6" stroke-width="1.20"/><line x1="400.2" x2="405.2" y1="777.2" y2="777.2" stroke="#0000e6" stroke-width="1.20"/><line x1="402.7" x2="402.7" y1="805.7" y2="795.6" stroke="#0000e6" stroke-width="1.20"/><line x1="400.2" x2="405.2" y1="805.7" y2="805.7" stroke="#0000e6" stroke-width="1.20"/>
<polygon points="402.7,786.0 407.7,795.6 397.7,795.6" fill="#0000e6"/>
<line x1="426.7" x2="426.7" y1="801.6" y2="808.0" stroke="#0000e6" stroke-width="1.20"/><line x1="424.2" x2="429.2" y1="801.6" y2="801.6" stroke="#0000e6" stroke-width="1.20"/><line x1="426.7" x2="426.7" y1="824.7" y2="817.6" stroke="#0000e6" stroke-width="1.20"/><line x1="424.2" x2="429.2" y1="824.7" y2="824.7" stroke="#0000e6" stroke-width="1.20"/>
<polygon points="426.7,808.0 431.7,817.6 421.7,817.6" fill="#0000e6"/>
<line x1="458.6" x2="458.6" y1="783.3" y2="791.2" stroke="#0000e6" stroke-width="1.20"/><line x1="456.1" x2="461.1" y1="783.3" y2="783.3" stroke="#0000e6" stroke-width="1.20"/><line x1="458.6" x2="458.6" y1="809.8" y2="800.8" stroke="#0000e6" stroke-width="1.20"/><line x1="456.1" x2="461.1" y1="809.8" y2="809.8" stroke="#0000e6" stroke-width="1.20"/>
<polygon points="458.6,791.2 463.6,800.8 453.6,800.8" fill="#0000e6"/>
<line x1="490.6" x2="490.6" y1="796.6" y2="801.7" stroke="#0000e6" stroke-width="1.20"/><line x1="488.1" x2="493.1" y1="796.6" y2="796.6" stroke="#0000e6" stroke-width="1.20"/><line x1="490.6" x2="490.6" y1="817.0" y2="811.3" stroke="#0000e6" stroke-width="1.20"/><line x1="488.1" x2="493.1" y1="817.0" y2="817.0" stroke="#0000e6" stroke-width="1.20"/>
<polygon points="490.6,801.7 495.6,811.3 485.6,811.3" fill="#0000e6"/>
<line x1="522.6" x2="522.6" y1="737.2" y2="751.6" stroke="#0000e6" stroke-width="1.20"/><line x1="520.1" x2="525.1" y1="737.2" y2="737.2" stroke="#0000e6" stroke-width="1.20"/><line x1="522.6" x2="522.6" y1="778.0" y2="761.2" stroke="#0000e6" stroke-width="1.20"/><line x1="520.1" x2="525.1" y1="778.0" y2="778.0" stroke="#0000e6" stroke-width="1.20"/>
<polygon points="522.6,751.6 527.6,761.2 517.6,761.2" fill="#0000e6"/>
<line x1="554.5" x2="554.5" y1="650.5" y2="707.1" stroke="#0000e6" stroke-width="1.20"/><line x1="552.0" x2="557.0" y1="650.5" y2="650.5" stroke="#0000e6" stroke-width="1.20"/><line x1="554.5" x2="554.5" y1="807.4" y2="716.7" stroke="#0000e6" stroke-width="1.20"/><line x1="552.0" x2="557.0" y1="807.4" y2="807.4" stroke="#0000e6" stroke-width="1.20"/>
<polygon points="554.5,707.1 559.5,716.7 549.5,716.7" fill="#0000e6"/>
<line x1="586.5" x2="586.5" y1="698.5" y2="736.9" stroke="#0000e6" stroke-width="1.20"/><line x1="584.0" x2="589.0" y1="698.5" y2="698.5" stroke="#0000e6" stroke-width="1.20"/><line x1="586.5" x2="586.5" y1="799.1" y2="746.5" stroke="#0000e6" stroke-width="1.20"/><line x1="584.0" x2="589.0" y1="799.1" y2="799.1" stroke="#0000e6" stroke-width="1.20"/>
<polygon points="586.5,736.9 591.5,746.5 581.5,746.5" fill="#0000e6"/>
<line x1="634.4" x2="634.4" y1="770.3" y2="801.0" stroke="#0000e6" stroke-width="1.20"/><line x1="631.9" x2="636.9" y1="770.3" y2="770.3" stroke="#0000e6" stroke-width="1.20"/><line x1="634.4" x2="634.4" y1="850.3" y2="810.6" stroke="#0000e6" stroke-width="1.20"/><line x1="631.9" x2="636.9" y1="850.3" y2="850.3" stroke="#0000e6" stroke-width="1.20"/>
<polygon points="634.4,801.0 639.4,810.6 629.4,810.6" fill="#0000e6"/>
<line x1="698.3" x2="698.3" y1="783.5" y2="803.2" stroke="#0000e6" stroke-width="1.20"/><line x1="695.8" x2="700.8" y1="783.5" y2="783.5" stroke="#0000e6" stroke-width="1.20"/><line x1="698.3" x2="698.3" y1="836.6" y2="812.8" stroke="#0000e6" stroke-width="1.20"/><line x1="695.8" x2="700.8" y1="836.6" y2="836.6" stroke="#0000e6" stroke-width="1.20"/>
<polygon points="698.3,803.2 703.3,812.8 693.3,812.8" fill="#0000e6"/>
</g>
<text x="102.96" y="28.40" font-family='"Liberation Sans", sans-serif' font-size="24.96" text-anchor="start" fill="#000" textLength="142.66" lengthAdjust="spacingAndGlyphs">7000 GeV pp</text>
<text x="550.64" y="28.40" font-family='"Liberation Sans", sans-serif' font-size="24.96" text-anchor="start" fill="#000" textLength="183.54" lengthAdjust="spacingAndGlyphs">Underlying Event</text>
<text x="107.16" y="79.90" font-family='"Liberation Sans", sans-serif' font-size="24.96" text-anchor="start" fill="#000" textLength="80.60" lengthAdjust="spacingAndGlyphs">Toward</text>
<g transform="translate(191.02,83.70) scale(0.4748,0.4253)"><text x="0" y="0" font-family='"Liberation Serif", serif' font-size="100" fill="#000" stroke="#000" stroke-width="2.00" stroke-linejoin="miter">∑</text></g>
<text x="228.22" y="79.90" font-family='"Liberation Sans", sans-serif' font-size="24.96" text-anchor="start" fill="#000" textLength="14.47" lengthAdjust="spacingAndGlyphs">p</text>
<text x="241.15" y="102.40" font-family='"Liberation Sans", sans-serif' font-size="16.12" text-anchor="start" fill="#000" textLength="9.61" lengthAdjust="spacingAndGlyphs">T</text>
<text x="257.58" y="79.90" font-family='"Liberation Sans", sans-serif' font-size="24.96" text-anchor="start" fill="#000" textLength="115.25" lengthAdjust="spacingAndGlyphs">density vs.</text>
<text x="378.19" y="79.90" font-family='"Liberation Sans", sans-serif' font-size="24.96" text-anchor="start" fill="#000" textLength="13.85" lengthAdjust="spacingAndGlyphs">p</text>
<text x="389.99" y="68.40" font-family='"Liberation Sans", sans-serif' font-size="15.6" text-anchor="start" fill="#000" textLength="23.09" lengthAdjust="spacingAndGlyphs">trk1</text>
<text x="389.25" y="93.20" font-family='"Liberation Sans", sans-serif' font-size="16.12" text-anchor="start" fill="#000" textLength="9.51" lengthAdjust="spacingAndGlyphs">T</text>
<text x="412.15" y="79.90" font-family='"Liberation Sans", sans-serif' font-size="24.96" text-anchor="start" fill="#000" textLength="8.49" lengthAdjust="spacingAndGlyphs">,</text>
<g transform="translate(426.65,81.11) scale(0.1817,0.2770)"><text x="0" y="0" font-family='"Liberation Sans", sans-serif' font-size="100" fill="#000">√</text></g>
<line x1="436.2" x2="447.5" y1="59.9" y2="59.9" stroke="#000" stroke-width="1.6"/>
<text x="436.26" y="79.90" font-family='"Liberation Sans", sans-serif' font-size="24.96" text-anchor="start" fill="#000" textLength="11.47" lengthAdjust="spacingAndGlyphs">s</text>
<text x="453.37" y="79.90" font-family='"Liberation Sans", sans-serif' font-size="24.96" text-anchor="start" fill="#000" textLength="14.66" lengthAdjust="spacingAndGlyphs">=</text>
<text x="476.01" y="79.90" font-family='"Liberation Sans", sans-serif' font-size="24.96" text-anchor="start" fill="#000" textLength="84.08" lengthAdjust="spacingAndGlyphs">{7 TeV},</text>
<text x="565.22" y="79.90" font-family='"Liberation Sans", sans-serif' font-size="24.96" text-anchor="start" fill="#000" textLength="14.47" lengthAdjust="spacingAndGlyphs">p</text>
<text x="578.83" y="93.20" font-family='"Liberation Sans", sans-serif' font-size="16.12" text-anchor="start" fill="#000" textLength="9.94" lengthAdjust="spacingAndGlyphs">T</text>
<text x="595.64" y="79.90" font-family='"Liberation Sans", sans-serif' font-size="24.96" text-anchor="start" fill="#000" textLength="14.90" lengthAdjust="spacingAndGlyphs">&gt;</text>
<text x="618.21" y="79.90" font-family='"Liberation Sans", sans-serif' font-size="24.96" text-anchor="start" fill="#000" textLength="110.22" lengthAdjust="spacingAndGlyphs">{100 MeV}</text>
<rect x="147.7" y="118.9" width="11" height="11" fill="#000"/>
<line x1="128.4" x2="174.7" y1="150.3" y2="150.3" stroke="#2f8a00" stroke-width="1.3" stroke-dasharray="4.7,3.75"/>
<rect x="148.2" y="145.3" width="9.8" height="9.8" fill="none" stroke="#2f8a00" stroke-width="1.7"/>
<line x1="128.4" x2="177.3" y1="176.4" y2="176.4" stroke="#0000e6" stroke-width="1.5"/>
<polygon points="153.2,171.2 158.5,181.6 147.9,181.6" fill="#0000e6"/>
<text x="187.26" y="129.90" font-family='"Liberation Sans", sans-serif' font-size="19.45" text-anchor="start" fill="#000" textLength="60.82" lengthAdjust="spacingAndGlyphs">ATLAS</text>
<text x="186.14" y="155.80" font-family='"Liberation Sans", sans-serif' font-size="19.45" text-anchor="start" fill="#000" textLength="169.20" lengthAdjust="spacingAndGlyphs">Herwig 7.2.1 default</text>
<text x="186.14" y="182.30" font-family='"Liberation Sans", sans-serif' font-size="19.45" text-anchor="start" fill="#000" textLength="168.50" lengthAdjust="spacingAndGlyphs">Pythia 8.235 default</text>
<text x="330.52" y="604.20" font-family='"Liberation Sans", sans-serif' font-size="16.22" text-anchor="start" fill="#8c8c8c" textLength="171.17" lengthAdjust="spacingAndGlyphs">(ATLAS_2010_I879407)</text>
<text x="82.20" y="555.06" font-family='"Liberation Sans", sans-serif' font-size="22" text-anchor="end" fill="#000" textLength="12.26" lengthAdjust="spacingAndGlyphs">2</text>
<text x="82.20" y="467.22" font-family='"Liberation Sans", sans-serif' font-size="22" text-anchor="end" fill="#000" textLength="12.26" lengthAdjust="spacingAndGlyphs">4</text>
<text x="82.20" y="379.38" font-family='"Liberation Sans", sans-serif' font-size="22" text-anchor="end" fill="#000" textLength="12.26" lengthAdjust="spacingAndGlyphs">6</text>
<text x="82.20" y="291.54" font-family='"Liberation Sans", sans-serif' font-size="22" text-anchor="end" fill="#000" textLength="12.26" lengthAdjust="spacingAndGlyphs">8</text>
<text x="82.20" y="203.70" font-family='"Liberation Sans", sans-serif' font-size="22" text-anchor="end" fill="#000" textLength="24.53" lengthAdjust="spacingAndGlyphs">10</text>
<text x="82.20" y="115.86" font-family='"Liberation Sans", sans-serif' font-size="22" text-anchor="end" fill="#000" textLength="24.53" lengthAdjust="spacingAndGlyphs">12</text>
<clipPath id="c0"><rect x="0" y="600" width="90" height="35.60000000000002"/></clipPath>
<g clip-path="url(#c0)"><text x="82.20" y="642.90" font-family='"Liberation Sans", sans-serif' font-size="22" text-anchor="end" fill="#000" textLength="12.26" lengthAdjust="spacingAndGlyphs">0</text></g>
<text x="77.00" y="681.98" font-family='"Liberation Sans", sans-serif' font-size="22" text-anchor="end" fill="#000" textLength="12.26" lengthAdjust="spacingAndGlyphs">2</text>
<text x="748.00" y="681.98" font-family='"Liberation Sans", sans-serif' font-size="22" text-anchor="start" fill="#000" textLength="12.26" lengthAdjust="spacingAndGlyphs">2</text>
<text x="77.00" y="803.30" font-family='"Liberation Sans", sans-serif' font-size="22" text-anchor="end" fill="#000" textLength="12.26" lengthAdjust="spacingAndGlyphs">1</text>
<text x="748.00" y="803.30" font-family='"Liberation Sans", sans-serif' font-size="22" text-anchor="start" fill="#000" textLength="12.26" lengthAdjust="spacingAndGlyphs">1</text>
<text x="77.00" y="924.62" font-family='"Liberation Sans", sans-serif' font-size="22" text-anchor="end" fill="#000" textLength="30.65" lengthAdjust="spacingAndGlyphs">0.5</text>
<text x="748.00" y="924.62" font-family='"Liberation Sans", sans-serif' font-size="22" text-anchor="start" fill="#000" textLength="30.65" lengthAdjust="spacingAndGlyphs">0.5</text>
<text x="91.10" y="978.40" font-family='"Liberation Sans", sans-serif' font-size="22" text-anchor="middle" fill="#000" textLength="12.26" lengthAdjust="spacingAndGlyphs">0</text>
<text x="250.90" y="978.40" font-family='"Liberation Sans", sans-serif' font-size="22" text-anchor="middle" fill="#000" textLength="12.26" lengthAdjust="spacingAndGlyphs">5</text>
<text x="410.70" y="978.40" font-family='"Liberation Sans", sans-serif' font-size="22" text-anchor="middle" fill="#000" textLength="24.53" lengthAdjust="spacingAndGlyphs">10</text>
<text x="570.50" y="978.40" font-family='"Liberation Sans", sans-serif' font-size="22" text-anchor="middle" fill="#000" textLength="24.53" lengthAdjust="spacingAndGlyphs">15</text>
<text x="730.30" y="978.40" font-family='"Liberation Sans", sans-serif' font-size="22" text-anchor="middle" fill="#000" textLength="24.53" lengthAdjust="spacingAndGlyphs">20</text>
<text x="483.62" y="1004.20" font-family='"Liberation Sans", sans-serif' font-size="26.0" text-anchor="start" fill="#000" textLength="14.47" lengthAdjust="spacingAndGlyphs">p</text>
<text x="498.62" y="1017.00" font-family='"Liberation Sans", sans-serif' font-size="16.64" text-anchor="start" fill="#000" textLength="10.37" lengthAdjust="spacingAndGlyphs">T</text>
<text x="516.73" y="1004.20" font-family='"Liberation Sans", sans-serif' font-size="26.0" text-anchor="start" fill="#000" textLength="232.48" lengthAdjust="spacingAndGlyphs">(leading track) [GeV]</text>
<g transform="translate(36.9,854.5) rotate(-90)"><text x="-0.97" y="0.00" font-family='"Liberation Sans", sans-serif' font-size="18.3" text-anchor="start" fill="#000" textLength="123.19" lengthAdjust="spacingAndGlyphs">Ratio to ATLAS</text></g>
<g transform="translate(759.8,253.6) rotate(-90)"><text x="-1.05" y="0.00" font-family='"Liberation Sans", sans-serif' font-size="19.03" text-anchor="start" fill="#8c8c8c" textLength="218.03" lengthAdjust="spacingAndGlyphs">Rivet 4.1.0, ≥ 100k events</text></g>
<g transform="translate(762.0,628.0) rotate(-90)"><text x="-0.46" y="0.00" font-family='"Liberation Sans", sans-serif' font-size="19.34" text-anchor="start" fill="#8c8c8c" textLength="286.21" lengthAdjust="spacingAndGlyphs">mcplots.cern.ch [arXiv:1306.3436]</text></g>
<g transform="translate(26.6,289.0) rotate(-90)"><text x="0.30" y="0.00" font-family='"Liberation Sans", sans-serif' font-size="26.0" text-anchor="start" fill="#000" textLength="12.20" lengthAdjust="spacingAndGlyphs">#</text><g transform="translate(11.74,-0.04) scale(0.3308,0.2459)"><text x="0" y="0" font-family='"DejaVu Sans", sans-serif' font-size="100" fill="#000">⟨</text></g><text x="21.48" y="0.00" font-family='"Liberation Sans", sans-serif' font-size="26.0" text-anchor="start" fill="#000" textLength="14.84" lengthAdjust="spacingAndGlyphs">d</text><text x="35.22" y="-11.10" font-family='"Liberation Sans", sans-serif' font-size="16.64" text-anchor="start" fill="#000" textLength="8.67" lengthAdjust="spacingAndGlyphs">2</text><g transform="translate(48.20,3.07) scale(0.4781,0.4310)"><text x="0" y="0" font-family='"Liberation Serif", serif' font-size="100" fill="#000" stroke="#000" stroke-width="1.98" stroke-linejoin="miter">∑</text></g><text x="85.48" y="0.00" font-family='"Liberation Sans", sans-serif' font-size="26.0" text-anchor="start" fill="#000" textLength="15.71" lengthAdjust="spacingAndGlyphs">p</text><text x="97.83" y="21.30" font-family='"Liberation Sans", sans-serif' font-size="16.64" text-anchor="start" fill="#000" textLength="9.94" lengthAdjust="spacingAndGlyphs">T</text><text x="109.40" y="0.00" font-family='"Liberation Sans", sans-serif' font-size="26.0" text-anchor="start" fill="#000" textLength="6.40" lengthAdjust="spacingAndGlyphs">/</text><text x="115.35" y="0.00" font-family='"Liberation Sans", sans-serif' font-size="26.0" text-anchor="start" fill="#000" textLength="13.85" lengthAdjust="spacingAndGlyphs">d</text><text x="127.69" y="0.00" font-family='"Liberation Serif", serif' font-size="25" text-anchor="start" fill="#000" textLength="13.56" lengthAdjust="spacingAndGlyphs">η</text><text x="139.88" y="0.00" font-family='"Liberation Sans", sans-serif' font-size="26.0" text-anchor="start" fill="#000" textLength="14.84" lengthAdjust="spacingAndGlyphs">d</text><g transform="translate(153.51,-0.67) scale(0.2948,0.2382)"><text x="0" y="0" font-family='"Liberation Serif", serif' font-size="100" fill="#000">ϕ</text></g><text x="169.11" y="0.00" font-family='"Liberation Sans", sans-serif' font-size="26.0" text-anchor="start" fill="#000" textLength="11.90" lengthAdjust="spacingAndGlyphs">#</text><g transform="translate(179.59,-0.45) scale(0.2764,0.2392)"><text x="0" y="0" font-family='"DejaVu Sans", sans-serif' font-size="100" fill="#000">⟩</text></g><text x="194.97" y="0.00" font-family='"Liberation Sans", sans-serif' font-size="26.0" text-anchor="start" fill="#000" textLength="62.06" lengthAdjust="spacingAndGlyphs">[GeV]</text></g>
</svg>
</body></html>
